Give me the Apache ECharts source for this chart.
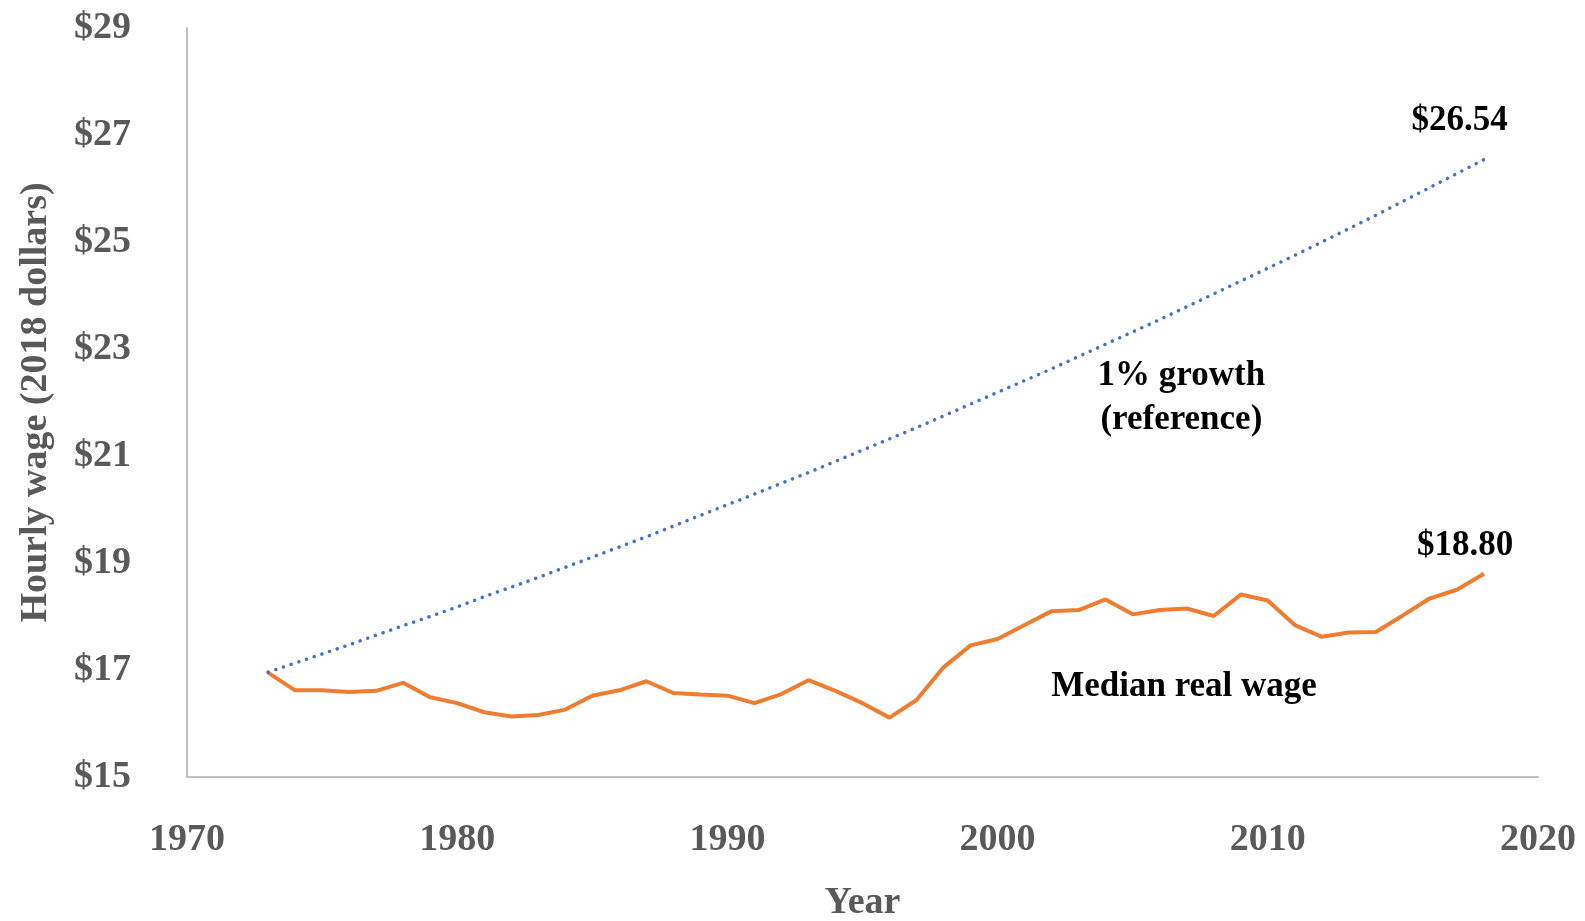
<!DOCTYPE html>
<html>
<head>
<meta charset="utf-8">
<script src="https://cdn.jsdelivr.net/npm/echarts@6/dist/echarts.min.js"></script>
<style>
  html, body { margin: 0; padding: 0; background: #fff; }
  #chart { width: 1585px; height: 921px; }
</style>
</head>
<body>
<div id="chart"></div>
<script>
// years 1973..2018
const years = [1973, 1974, 1975, 1976, 1977, 1978, 1979, 1980, 1981, 1982, 1983, 1984, 1985, 1986, 1987, 1988,
  1989, 1990, 1991, 1992, 1993, 1994, 1995, 1996, 1997, 1998, 1999, 2000, 2001, 2002, 2003, 2004, 2005,
  2006, 2007, 2008, 2009, 2010, 2011, 2012, 2013, 2014, 2015, 2016, 2017, 2018];
// median real wage
const medianWage = [16.95, 16.62, 16.62, 16.59, 16.61, 16.76, 16.49, 16.38, 16.21, 16.13, 16.16, 16.26, 16.52, 16.62, 16.79, 16.57,
  16.54, 16.52, 16.38, 16.55, 16.81, 16.61, 16.38, 16.11, 16.44, 17.05, 17.46, 17.58, 17.84, 18.10, 18.12, 18.32, 18.04,
  18.12, 18.15, 18.01, 18.41, 18.30, 17.84, 17.62, 17.70, 17.71, 18.02, 18.34, 18.50, 18.80];
// 1% growth reference line
const growthRef = [16.96, 17.13, 17.30, 17.47, 17.65, 17.83, 18.00, 18.18, 18.37, 18.55, 18.73, 18.92, 19.11, 19.30, 19.49, 19.69,
  19.89, 20.09, 20.29, 20.49, 20.69, 20.90, 21.11, 21.32, 21.53, 21.75, 21.97, 22.19, 22.41, 22.63, 22.86, 23.09, 23.32,
  23.55, 23.79, 24.03, 24.27, 24.51, 24.75, 25.00, 25.25, 25.50, 25.76, 26.02, 26.28, 26.54];
const yTicks = [15, 17, 19, 21, 23, 25, 27, 29];
const xTicks = [1970, 1980, 1990, 2000, 2010, 2020];

const serif = "Liberation Serif";
const gray = "#595959";

let myChart = echarts.init(document.getElementById("chart"));

// 注释文字
const note = (coord, text) => ({
  coord: coord,
  symbol: "circle",
  symbolSize: 1,
  itemStyle: { color: "rgba(0,0,0,0)" },
  label: {
    show: true,
    position: "inside",
    formatter: text,
    color: "#000",
    fontFamily: serif,
    fontWeight: "bold",
    fontSize: 35,
    lineHeight: 44
  }
});

let option = {
  animation: false,
  grid: { left: 187, right: 47, top: 28, bottom: 144, outerBoundsMode: "none", containLabel: false },
  xAxis: {
    type: "value",
    min: xTicks[0],
    max: xTicks[xTicks.length - 1],
    interval: 10,
    name: "Year",
    nameLocation: "middle",
    nameGap: 107,
    nameTextStyle: { color: gray, fontFamily: serif, fontWeight: "bold", fontSize: 38 },
    axisLine: { show: true, lineStyle: { color: "#bfbfbf", width: 2 } },
    axisTick: { show: false },
    splitLine: { show: false },
    axisLabel: {
      color: gray, fontFamily: serif, fontWeight: "bold", fontSize: 38, margin: 44,
      formatter: v => String(v)
    }
  },
  yAxis: {
    type: "value",
    min: yTicks[0],
    max: yTicks[yTicks.length - 1],
    interval: 2,
    name: "Hourly wage (2018 dollars)",
    nameLocation: "middle",
    nameGap: 132,
    nameTextStyle: { color: gray, fontFamily: serif, fontWeight: "bold", fontSize: 38 },
    axisLine: { show: true, lineStyle: { color: "#bfbfbf", width: 2 } },
    axisTick: { show: false },
    splitLine: { show: false },
    axisLabel: {
      color: gray, fontFamily: serif, fontWeight: "bold", fontSize: 38, margin: 56,
      formatter: v => "$" + v
    }
  },
  series: [
    {
      name: "1% growth (reference)",
      type: "line",
      symbol: "none",
      data: years.map((y, i) => [y, growthRef[i]]),
      lineStyle: { color: "#4472C4", width: 3.5, type: [0.1, 8], cap: "round" },
      markPoint: {
        silent: true,
        data: [
          note([2017.1, 27.27], "$26.54"),
          note([2006.8, 22.08], "1% growth\n(reference)")
        ]
      },
      z: 3
    },
    {
      name: "Median real wage",
      type: "line",
      symbol: "none",
      data: years.map((y, i) => [y, medianWage[i]]),
      lineStyle: { color: "#ED7D31", width: 4 },
      markPoint: {
        silent: true,
        data: [
          note([2017.3, 19.32], "$18.80"),
          note([2006.9, 16.68], "Median real wage")
        ]
      },
      z: 2
    }
  ]
};
myChart.setOption(option);
</script>
</body>
</html>
